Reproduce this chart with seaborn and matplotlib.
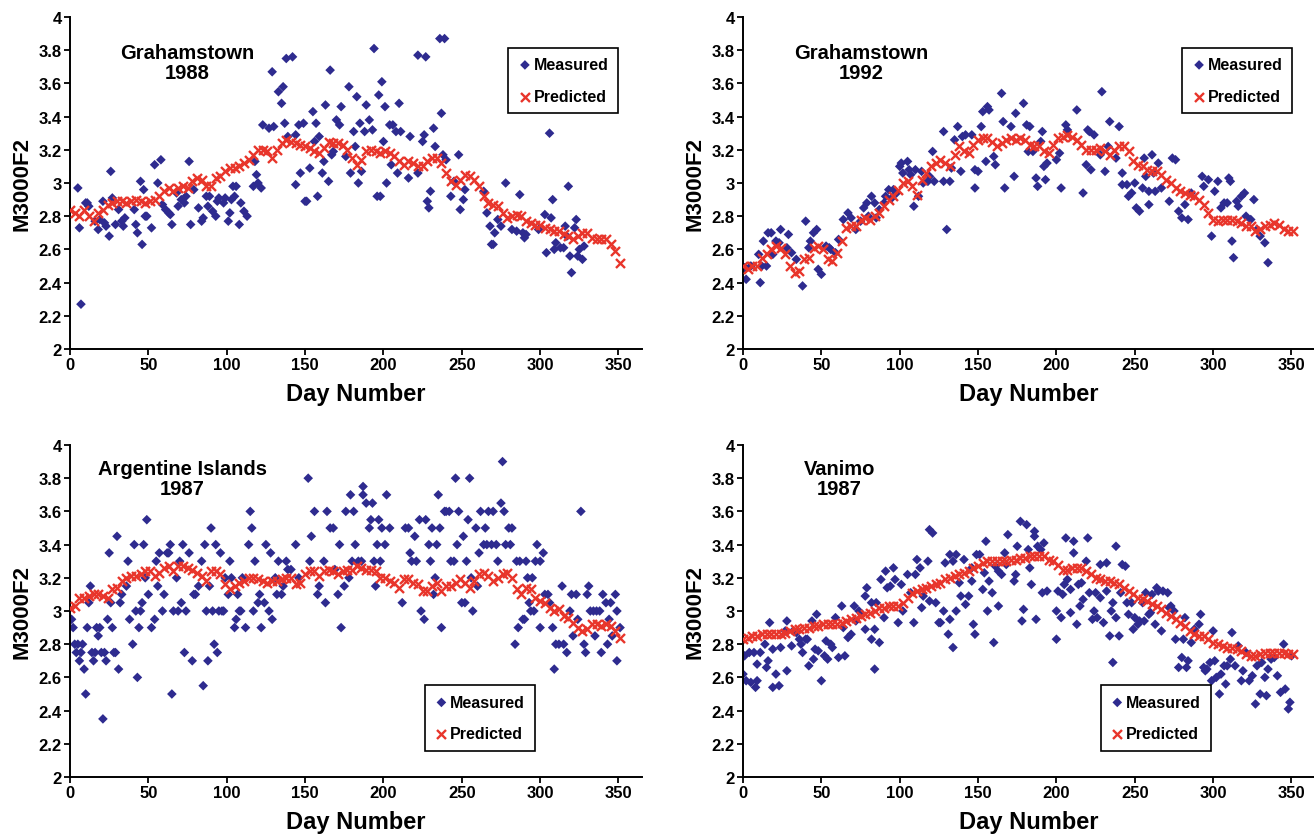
import numpy as np
import pandas as pd
import matplotlib
matplotlib.use("Agg")
import matplotlib.pyplot as plt
import seaborn as sns

# ---- Grahamstown 1988 ----
gt88_days = [5, 6, 7, 10, 11, 12, 16, 18, 19, 21, 22, 23, 25, 26, 27, 29, 31, 33, 34, 35,
             41, 42, 43, 45, 46, 47, 48, 49, 52, 54, 56, 58, 59, 61, 63, 64, 65, 68, 69, 71,
             73, 74, 76, 77, 79, 82, 84, 85, 87, 88, 89, 91, 93, 94, 95, 98, 99, 101, 102, 103,
             104, 105, 106, 108, 109, 111, 113, 117, 118, 119, 120, 122, 123, 127, 129, 130, 133, 135, 136, 137,
             138, 139, 142, 144, 144, 146, 147, 149, 150, 151, 153, 155, 156, 157, 158, 159, 161, 162, 163, 165,
             166, 167, 168, 170, 172, 173, 176, 178, 179, 181, 182, 183, 184, 185, 186, 188, 189, 191, 193, 194,
             196, 197, 198, 199, 200, 201, 202, 204, 205, 206, 208, 209, 210, 211, 216, 217, 222, 222, 225, 226,
             227, 228, 229, 230, 232, 233, 236, 237, 238, 239, 240, 243, 245, 248, 249, 251, 252, 264, 266, 268,
             269, 270, 271, 273, 275, 278, 282, 285, 287, 289, 290, 291, 299, 303, 304, 306, 307, 308, 309, 310,
             313, 315, 316, 317, 318, 319, 320, 322, 323, 324, 325, 327, 328]
gt88_meas = [2.97, 2.73, 2.27, 2.88, 2.88, 2.86, 2.77, 2.72, 2.78, 2.89, 2.76, 2.74, 2.68, 3.07, 2.91, 2.75, 2.84, 2.77, 2.74, 2.79,
             2.84, 2.75, 2.70, 3.01, 2.63, 2.96, 2.80, 2.80, 2.73, 3.11, 3.00, 3.14, 2.87, 2.84, 2.82, 2.81, 2.75, 2.94, 2.86, 2.90,
             2.88, 2.92, 3.13, 2.75, 2.96, 2.85, 2.77, 2.79, 2.92, 2.86, 2.92, 2.83, 2.80, 2.89, 2.91, 2.88, 2.91, 2.77, 2.82, 2.90,
             2.98, 2.92, 2.98, 2.75, 2.88, 2.83, 2.80, 2.98, 3.13, 3.05, 3.00, 2.97, 3.35, 3.33, 3.67, 3.34, 3.55, 3.48, 3.58, 3.36,
             3.75, 3.28, 3.76, 2.99, 3.29, 3.35, 3.06, 3.36, 2.89, 2.89, 3.09, 3.43, 3.25, 3.36, 2.92, 3.28, 3.06, 3.13, 3.47, 3.01,
             3.68, 3.17, 3.19, 3.38, 3.35, 3.46, 3.16, 3.58, 3.06, 3.31, 3.22, 3.52, 3.00, 3.36, 3.07, 3.31, 3.47, 3.38, 3.32, 3.81,
             2.92, 3.53, 2.92, 3.61, 3.25, 3.46, 3.00, 3.35, 3.11, 3.35, 3.31, 3.06, 3.48, 3.31, 3.03, 3.28, 3.06, 3.77, 3.25, 3.29,
             3.76, 2.89, 2.85, 2.95, 3.33, 3.22, 3.87, 3.42, 3.17, 3.87, 3.14, 2.92, 3.01, 3.17, 2.84, 2.90, 2.96, 2.95, 2.82, 2.74,
             2.63, 2.63, 2.70, 2.78, 2.74, 3.00, 2.72, 2.71, 2.93, 2.70, 2.67, 2.69, 2.72, 2.81, 2.58, 3.30, 2.79, 2.90, 2.60, 2.64,
             2.61, 2.61, 2.74, 2.68, 2.98, 2.56, 2.46, 2.73, 2.78, 2.56, 2.60, 2.54, 2.62]
gt88_pred = [2.84, 2.82, 2.80, 2.84, 2.80, 2.77, 2.82, 2.84, 2.87, 2.88, 2.89, 2.89, 2.88, 2.89, 2.90, 2.89, 2.88, 2.89, 2.90, 2.92,
             2.95, 2.97, 2.95, 2.97, 2.98, 2.97, 3.01, 3.03, 3.02, 2.98, 2.98, 3.03, 3.04, 3.07, 3.09, 3.09, 3.10, 3.12, 3.14, 3.17,
             3.20, 3.20, 3.19, 3.15, 3.20, 3.24, 3.26, 3.25, 3.24, 3.23, 3.22, 3.21, 3.19, 3.18, 3.21, 3.25, 3.24, 3.24, 3.23, 3.20,
             3.15, 3.11, 3.14, 3.19, 3.20, 3.19, 3.18, 3.19, 3.18, 3.16, 3.13, 3.11, 3.13, 3.12, 3.10, 3.10, 3.13, 3.15, 3.15, 3.12,
             3.06, 3.01, 2.99, 3.02, 3.05, 3.04, 3.02, 2.98, 2.92, 2.88, 2.87, 2.86, 2.82, 2.79, 2.80, 2.81, 2.80, 2.77, 2.76, 2.75,
             2.75, 2.73, 2.72, 2.71, 2.71, 2.69, 2.68, 2.66, 2.68, 2.70, 2.70, 2.67, 2.66, 2.66, 2.66, 2.63, 2.59, 2.52]

# ---- Grahamstown 1992 ----
gt92_days = [1, 2, 5, 10, 11, 12, 13, 15, 16, 18, 19, 21, 23, 24, 28, 29, 31, 34, 38, 40,
             42, 43, 45, 47, 48, 50, 53, 55, 56, 59, 61, 64, 67, 69, 72, 75, 77, 79, 80, 82,
             84, 85, 87, 90, 91, 93, 95, 96, 98, 100, 101, 102, 105, 106, 107, 109, 110, 112, 114, 115,
             118, 119, 121, 122, 128, 128, 130, 132, 133, 135, 137, 139, 140, 142, 146, 148, 148, 150, 152, 153,
             155, 156, 157, 160, 161, 165, 166, 167, 171, 173, 174, 179, 181, 182, 183, 185, 187, 188, 190, 191,
             192, 193, 194, 200, 202, 203, 206, 207, 213, 217, 219, 220, 221, 222, 224, 228, 229, 231, 233, 234,
             238, 240, 242, 242, 245, 246, 248, 250, 251, 253, 255, 256, 257, 259, 259, 261, 262, 263, 265, 267,
             272, 274, 276, 278, 280, 282, 284, 286, 293, 294, 297, 299, 301, 303, 305, 307, 309, 310, 311, 312,
             313, 315, 316, 318, 320, 321, 324, 326, 328, 330, 333, 335]
gt92_meas = [2.49, 2.42, 2.50, 2.57, 2.40, 2.50, 2.65, 2.50, 2.70, 2.70, 2.57, 2.65, 2.64, 2.72, 2.61, 2.69, 2.58, 2.54, 2.38, 2.77,
             2.61, 2.65, 2.70, 2.72, 2.48, 2.45, 2.62, 2.61, 2.60, 2.58, 2.66, 2.78, 2.82, 2.79, 2.72, 2.77, 2.85, 2.88, 2.80, 2.92,
             2.88, 2.79, 2.84, 2.88, 2.92, 2.96, 2.91, 2.96, 2.94, 3.10, 3.12, 3.06, 3.13, 3.08, 3.05, 2.86, 3.08, 2.92, 3.07, 3.00,
             3.01, 3.04, 3.19, 3.01, 3.31, 3.01, 2.72, 3.01, 3.09, 3.26, 3.34, 3.07, 3.28, 3.29, 3.29, 3.08, 2.97, 3.07, 3.34, 3.43,
             3.13, 3.46, 3.44, 3.16, 3.11, 3.54, 3.37, 2.97, 3.34, 3.04, 3.42, 3.48, 3.35, 3.19, 3.34, 3.19, 3.03, 2.98, 3.25, 3.31,
             3.10, 3.02, 3.12, 3.14, 3.18, 2.97, 3.35, 3.32, 3.44, 2.94, 3.11, 3.32, 3.31, 3.08, 3.29, 3.17, 3.55, 3.07, 3.22, 3.37,
             3.15, 3.34, 3.06, 2.99, 2.99, 2.92, 2.94, 3.00, 2.85, 2.83, 2.97, 3.15, 3.04, 2.95, 2.87, 3.17, 3.06, 2.95, 3.12, 2.97,
             2.89, 3.15, 3.14, 2.83, 2.79, 2.87, 2.78, 2.94, 3.04, 2.98, 3.02, 2.68, 2.95, 3.01, 2.85, 2.88, 2.88, 3.03, 3.01, 2.65,
             2.55, 2.89, 2.86, 2.92, 2.94, 2.80, 2.78, 2.90, 2.72, 2.68, 2.64, 2.52]
gt92_pred = [2.50, 2.48, 2.50, 2.50, 2.55, 2.57, 2.60, 2.62, 2.61, 2.57, 2.50, 2.46, 2.47, 2.54, 2.55, 2.61, 2.62, 2.60, 2.54, 2.53,
             2.58, 2.65, 2.73, 2.74, 2.74, 2.78, 2.79, 2.78, 2.80, 2.82, 2.86, 2.90, 2.92, 2.96, 3.00, 3.01, 2.98, 2.93, 3.02, 3.06,
             3.10, 3.12, 3.14, 3.12, 3.10, 3.17, 3.22, 3.19, 3.18, 3.23, 3.26, 3.27, 3.27, 3.25, 3.22, 3.24, 3.26, 3.27, 3.26, 3.27,
             3.26, 3.23, 3.22, 3.22, 3.19, 3.18, 3.23, 3.27, 3.28, 3.29, 3.28, 3.26, 3.23, 3.20, 3.20, 3.20, 3.21, 3.19, 3.17, 3.20,
             3.22, 3.22, 3.19, 3.13, 3.11, 3.10, 3.08, 3.07, 3.07, 3.05, 3.02, 3.00, 2.97, 2.95, 2.94, 2.93, 2.92, 2.90, 2.87, 2.82,
             2.78, 2.77, 2.78, 2.78, 2.78, 2.77, 2.76, 2.74, 2.74, 2.71, 2.72, 2.74, 2.75, 2.76, 2.75, 2.72, 2.71, 2.71]

# ---- Argentine Islands 1987 ----
ai87_days = [1, 2, 3, 4, 5, 6, 7, 8, 9, 10, 11, 12, 13, 14, 15, 16, 17, 18, 19, 20,
             21, 22, 23, 24, 25, 26, 27, 28, 29, 30, 31, 32, 33, 36, 37, 38, 40, 41, 42, 43,
             44, 45, 46, 47, 48, 49, 50, 52, 54, 55, 56, 57, 59, 60, 62, 63, 64, 65, 66, 68,
             69, 70, 71, 72, 73, 74, 76, 78, 79, 80, 82, 84, 85, 86, 87, 88, 89, 90, 91, 92,
             93, 94, 95, 96, 97, 98, 99, 101, 102, 103, 105, 106, 107, 108, 109, 110, 112, 114, 115, 116,
             117, 118, 120, 121, 122, 124, 125, 127, 128, 129, 131, 132, 133, 135, 136, 138, 139, 141, 144, 146,
             152, 153, 154, 156, 158, 159, 162, 163, 164, 166, 168, 169, 171, 172, 173, 175, 176, 178, 179, 180,
             181, 182, 184, 186, 187, 187, 189, 191, 192, 193, 194, 195, 196, 197, 198, 199, 201, 202, 204, 212,
             214, 216, 217, 218, 220, 221, 223, 224, 226, 227, 229, 230, 231, 232, 233, 234, 235, 236, 237, 239,
             240, 242, 243, 245, 246, 247, 248, 250, 251, 252, 253, 254, 255, 256, 257, 259, 260, 261, 262, 264,
             265, 266, 267, 269, 270, 272, 273, 275, 276, 277, 278, 280, 281, 282, 284, 285, 286, 287, 289, 290,
             291, 292, 293, 294, 295, 296, 297, 298, 300, 300, 302, 303, 305, 306, 308, 309, 310, 312, 314, 315,
             317, 319, 320, 321, 323, 324, 326, 328, 329, 330, 331, 332, 334, 335, 336, 338, 339, 340, 342, 343,
             344, 345, 346, 348, 349, 349, 351]
ai87_meas = [2.95, 2.90, 2.80, 2.75, 2.80, 2.70, 2.75, 2.80, 2.65, 2.50, 2.90, 3.05, 3.15, 2.75, 2.70, 2.75, 2.90, 2.85, 2.90, 2.75,
             2.35, 2.75, 2.70, 2.95, 3.35, 3.05, 2.90, 2.75, 2.75, 3.45, 2.65, 3.05, 3.10, 3.15, 3.30, 2.95, 2.80, 3.40, 3.00, 2.60,
             2.90, 3.00, 3.05, 3.40, 3.20, 3.55, 3.10, 2.90, 2.95, 3.30, 3.15, 3.35, 3.00, 3.10, 3.35, 3.35, 3.40, 2.50, 3.00, 3.20,
             3.00, 3.30, 3.05, 3.40, 2.75, 3.00, 3.35, 2.70, 3.10, 3.10, 3.15, 3.30, 2.55, 3.40, 3.00, 2.70, 3.15, 3.50, 3.00, 2.80,
             3.40, 2.75, 3.00, 3.35, 3.00, 3.00, 3.20, 3.10, 3.30, 3.20, 2.90, 2.95, 3.10, 3.00, 3.00, 3.20, 2.90, 3.40, 3.60, 3.50,
             3.00, 3.30, 3.05, 3.10, 2.90, 3.05, 3.40, 3.00, 3.35, 2.95, 3.20, 3.10, 3.30, 3.10, 3.15, 3.30, 3.25, 3.25, 3.40, 3.20,
             3.80, 3.30, 3.45, 3.60, 3.10, 3.15, 3.30, 3.05, 3.60, 3.50, 3.50, 3.25, 3.10, 3.40, 2.90, 3.15, 3.60, 3.20, 3.70, 3.30,
             3.60, 3.40, 3.30, 3.30, 3.70, 3.75, 3.65, 3.50, 3.55, 3.65, 3.30, 3.15, 3.40, 3.55, 3.30, 3.50, 3.40, 3.70, 3.50, 3.05,
             3.50, 3.50, 3.35, 3.30, 3.45, 3.30, 3.55, 3.00, 2.95, 3.55, 3.40, 3.30, 3.50, 3.10, 3.20, 3.40, 3.70, 3.50, 2.90, 3.60,
             3.60, 3.60, 3.30, 3.30, 3.80, 3.40, 3.60, 3.05, 3.45, 3.05, 3.30, 3.55, 3.80, 3.20, 3.00, 3.50, 3.15, 3.35, 3.60, 3.40,
             3.50, 3.40, 3.60, 3.40, 3.60, 3.40, 3.30, 3.65, 3.90, 3.60, 3.40, 3.50, 3.40, 3.50, 2.80, 3.30, 2.90, 3.30, 2.95, 2.95,
             3.30, 3.20, 3.05, 3.00, 3.20, 3.00, 3.30, 3.40, 3.30, 2.90, 3.35, 3.10, 3.10, 3.05, 2.90, 2.65, 2.80, 2.80, 3.15, 2.80,
             2.75, 3.00, 3.10, 2.85, 3.10, 2.95, 3.60, 2.80, 2.75, 3.10, 3.15, 3.00, 3.00, 2.85, 3.00, 3.00, 2.75, 3.10, 3.05, 2.80,
             2.95, 3.05, 2.85, 3.10, 3.00, 2.70, 2.90]
ai87_pred = [3.02, 3.03, 3.08, 3.08, 3.09, 3.10, 3.10, 3.09, 3.08, 3.13, 3.14, 3.18, 3.20, 3.21, 3.21, 3.22, 3.24, 3.24, 3.21, 3.23,
             3.26, 3.27, 3.24, 3.27, 3.27, 3.26, 3.25, 3.23, 3.21, 3.18, 3.24, 3.24, 3.22, 3.16, 3.13, 3.15, 3.17, 3.18, 3.20, 3.20,
             3.19, 3.18, 3.17, 3.18, 3.18, 3.19, 3.20, 3.20, 3.16, 3.17, 3.22, 3.24, 3.24, 3.21, 3.24, 3.25, 3.24, 3.22, 3.24, 3.25,
             3.25, 3.27, 3.26, 3.25, 3.25, 3.24, 3.20, 3.20, 3.18, 3.17, 3.14, 3.19, 3.19, 3.17, 3.16, 3.12, 3.12, 3.15, 3.17, 3.12,
             3.15, 3.15, 3.17, 3.19, 3.17, 3.14, 3.18, 3.22, 3.23, 3.21, 3.18, 3.20, 3.22, 3.23, 3.20, 3.13, 3.10, 3.14, 3.13, 3.08,
             3.06, 3.05, 3.02, 3.00, 3.01, 2.97, 2.96, 2.93, 2.90, 2.88, 2.89, 2.92, 2.92, 2.91, 2.92, 2.91, 2.88, 2.84]

# ---- Vanimo 1987 ----
va87_days = [0, 1, 2, 4, 5, 7, 8, 9, 9, 11, 14, 15, 16, 17, 19, 19, 21, 23, 24, 27,
             28, 28, 31, 32, 34, 36, 37, 38, 40, 41, 42, 44, 45, 46, 47, 48, 50, 52, 53, 54,
             56, 57, 59, 61, 63, 64, 65, 67, 69, 71, 72, 74, 76, 78, 78, 79, 82, 82, 84, 84,
             85, 87, 88, 90, 91, 92, 94, 96, 97, 99, 101, 102, 105, 107, 109, 110, 111, 113, 114, 115,
             118, 119, 119, 121, 123, 125, 126, 128, 129, 131, 132, 132, 134, 134, 136, 136, 138, 139, 141, 142,
             144, 146, 147, 148, 146, 149, 151, 153, 154, 155, 156, 157, 159, 160, 161, 163, 163, 165, 167, 168,
             169, 173, 174, 175, 177, 178, 179, 181, 182, 183, 184, 186, 186, 187, 188, 190, 191, 192, 194, 200,
             200, 201, 203, 204, 205, 206, 207, 209, 209, 211, 211, 213, 214, 215, 216, 217, 219, 220, 221, 223,
             224, 225, 226, 228, 228, 230, 232, 232, 234, 235, 236, 236, 238, 238, 240, 241, 242, 244, 245, 246,
             248, 249, 250, 252, 253, 255, 256, 257, 259, 260, 261, 263, 264, 265, 267, 268, 271, 272, 273, 275,
             276, 278, 280, 281, 282, 283, 284, 286, 288, 291, 292, 294, 295, 296, 298, 299, 300, 301, 302, 304,
             305, 307, 308, 309, 311, 312, 314, 316, 318, 319, 321, 323, 325, 327, 328, 330, 331, 333, 334, 335,
             337, 339, 341, 343, 345, 346, 348, 349, 350]
va87_meas = [2.62, 2.73, 2.58, 2.75, 2.57, 2.75, 2.54, 2.58, 2.68, 2.75, 2.80, 2.66, 2.70, 2.93, 2.77, 2.54, 2.62, 2.55, 2.78, 2.88,
             2.94, 2.64, 2.79, 2.88, 2.87, 2.83, 2.80, 2.75, 2.83, 2.83, 2.67, 2.94, 2.71, 2.77, 2.98, 2.76, 2.58, 2.73, 2.82, 2.71,
             2.80, 2.78, 2.96, 2.72, 3.03, 2.90, 2.73, 2.84, 2.86, 3.03, 2.94, 3.00, 2.98, 3.09, 2.89, 3.14, 3.05, 2.83, 2.65, 2.89,
             3.05, 2.81, 3.19, 2.96, 3.24, 3.14, 3.15, 3.26, 3.19, 2.93, 3.16, 3.00, 3.22, 3.11, 2.93, 3.22, 3.31, 3.26, 3.02, 3.09,
             3.30, 3.06, 3.49, 3.47, 3.05, 2.93, 2.93, 3.00, 3.29, 2.86, 3.34, 2.95, 2.78, 3.30, 3.00, 3.34, 3.17, 3.09, 3.31, 3.04,
             3.09, 3.26, 2.92, 2.86, 3.18, 3.34, 3.34, 3.13, 3.23, 3.42, 3.00, 3.18, 3.11, 2.81, 3.27, 3.03, 3.24, 3.22, 3.35, 3.28,
             3.46, 3.18, 3.22, 3.39, 3.54, 2.94, 3.01, 3.52, 3.37, 3.26, 3.16, 3.48, 3.45, 2.95, 3.39, 3.37, 3.11, 3.41, 3.12, 2.83,
             3.00, 3.12, 2.96, 3.10, 3.16, 3.44, 3.19, 2.99, 3.13, 3.35, 3.42, 2.92, 3.16, 3.03, 3.17, 3.07, 3.30, 3.44, 3.11, 2.95,
             3.00, 3.11, 2.96, 3.28, 3.08, 2.93, 3.12, 3.29, 2.85, 3.00, 3.05, 2.69, 3.39, 2.96, 2.85, 3.11, 3.28, 3.27, 3.05, 2.98,
             3.05, 2.89, 2.96, 2.92, 2.94, 3.05, 2.94, 3.11, 2.98, 2.99, 3.10, 2.92, 3.14, 3.12, 2.88, 3.12, 3.11, 3.02, 3.03, 3.00,
             2.83, 2.66, 2.72, 2.83, 2.96, 2.66, 2.70, 2.81, 2.89, 2.92, 2.98, 2.66, 2.64, 2.65, 2.69, 2.58, 2.88, 2.70, 2.60, 2.50,
             2.62, 2.67, 2.56, 2.67, 2.71, 2.87, 2.67, 2.79, 2.58, 2.64, 2.75, 2.58, 2.61, 2.44, 2.67, 2.50, 2.69, 2.60, 2.49, 2.65,
             2.71, 2.72, 2.61, 2.51, 2.80, 2.53, 2.41, 2.45, 2.73]
va87_pred = [2.83, 2.84, 2.85, 2.85, 2.86, 2.86, 2.86, 2.86, 2.86, 2.87, 2.88, 2.89, 2.89, 2.90, 2.90, 2.91, 2.91, 2.92, 2.92, 2.92,
             2.92, 2.93, 2.94, 2.95, 2.96, 2.97, 2.98, 2.99, 3.00, 3.02, 3.02, 3.03, 3.03, 3.03, 3.05, 3.08, 3.11, 3.12, 3.13, 3.14,
             3.15, 3.16, 3.17, 3.19, 3.20, 3.21, 3.22, 3.23, 3.24, 3.26, 3.27, 3.29, 3.30, 3.30, 3.30, 3.30, 3.30, 3.31, 3.31, 3.32,
             3.32, 3.33, 3.33, 3.33, 3.33, 3.31, 3.30, 3.28, 3.25, 3.25, 3.26, 3.26, 3.26, 3.24, 3.22, 3.20, 3.19, 3.18, 3.18, 3.17,
             3.16, 3.14, 3.12, 3.10, 3.08, 3.07, 3.06, 3.04, 3.03, 3.01, 2.99, 2.97, 2.95, 2.93, 2.91, 2.88, 2.86, 2.85, 2.85, 2.83,
             2.81, 2.80, 2.79, 2.78, 2.78, 2.77, 2.76, 2.74, 2.73, 2.73, 2.74, 2.75, 2.75, 2.75, 2.75, 2.75, 2.74, 2.74]

pred_days = np.arange(0, 352, 3)

panels = [
    ("Grahamstown\n1988", gt88_days, gt88_meas, gt88_pred),
    ("Grahamstown\n1992", gt92_days, gt92_meas, gt92_pred),
    ("Argentine Islands\n1987", ai87_days, ai87_meas, ai87_pred),
    ("Vanimo\n1987", va87_days, va87_meas, va87_pred),
]

NAVY = "#2E2B8F"
RED = "#E8352B"

sns.set_style("ticks")
plt.rcParams["font.family"] = ["Liberation Sans", "DejaVu Sans"]
plt.rcParams["font.weight"] = "bold"
for key in ["text.color", "axes.labelcolor", "xtick.color", "ytick.color"]:
    plt.rcParams[key] = "black"

fig = plt.figure(figsize=(13.14, 8.37), dpi=100)
W, H = 1314, 837
boxes = [(70, 18), (743, 18), (70, 446), (743, 446)]
title_pos = [(0.205, 0.864), (0.206, 0.864), (0.197, 0.898), (0.168, 0.898)]
legend_pos = [(0.766, 0.908), (0.768, 0.908), (0.62, 0.277), (0.625, 0.277)]

for i, (title, mdays, mvals, pvals) in enumerate(panels):
    px, py = boxes[i]
    ax = fig.add_axes([px / W, 1 - (py + 332) / H, 572 / W, 332 / H])
    meas = pd.DataFrame({"day": mdays, "val": mvals})
    pred = pd.DataFrame({"day": pred_days, "val": pvals})
    sns.scatterplot(data=meas, x="day", y="val", marker="D", s=24, color=NAVY,
                    edgecolor="none", label="Measured", ax=ax, zorder=2)
    sns.scatterplot(data=pred, x="day", y="val", marker="x", s=42, color=RED,
                    linewidth=1.7, label="Predicted", ax=ax, zorder=3)

    ax.set_xlim(0, 365)
    ax.set_ylim(2, 4)
    ax.set_xticks(range(0, 351, 50))
    yt = np.round(np.arange(2, 4.01, 0.2), 1)
    ax.set_yticks(yt)
    ax.set_yticklabels([f"{v:g}" for v in yt])
    ax.tick_params(direction="out", length=4, width=1.3, labelsize=12, pad=2)
    for lab in ax.get_xticklabels() + ax.get_yticklabels():
        lab.set_fontweight("bold")
    for side in ["top", "right"]:
        ax.spines[side].set_visible(False)
    for side in ["left", "bottom"]:
        ax.spines[side].set_linewidth(1.4)
        ax.spines[side].set_color("black")
    ax.set_xlabel("Day Number", fontsize=17, fontweight="bold", labelpad=7)
    ax.set_ylabel("M3000F2", fontsize=16, fontweight="bold", labelpad=4)

    ax.text(title_pos[i][0], title_pos[i][1], title, transform=ax.transAxes,
            ha="center", va="center", fontsize=14.5, fontweight="bold", linespacing=1.05)

    leg = ax.legend(loc="upper left", bbox_to_anchor=legend_pos[i], frameon=True,
                    fancybox=False, edgecolor="black", framealpha=1,
                    prop={"size": 11.5, "weight": "bold"}, handletextpad=0.1,
                    handlelength=0.9, labelspacing=1.05, borderpad=0.6, borderaxespad=0)
    leg.get_frame().set_linewidth(1.2)

fig.savefig("out.png", dpi=100)
